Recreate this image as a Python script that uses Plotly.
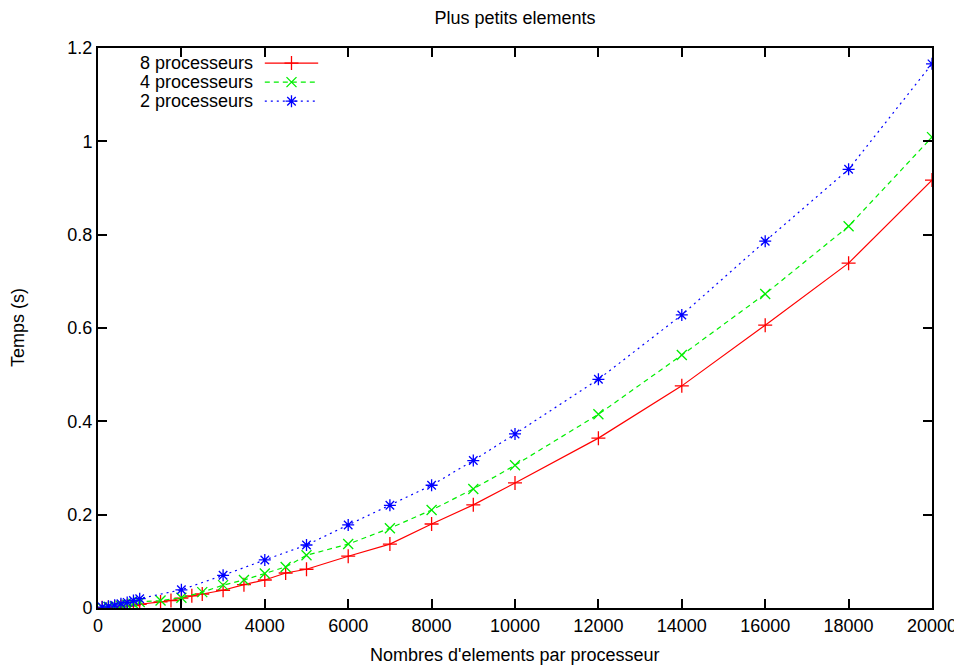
import plotly.graph_objects as go

# ---- data ----
series_names = ["8 processeurs", "4 processeurs", "2 processeurs"]

x_8 = [100, 250, 400, 550, 700, 850, 1000, 1500, 1750, 2000, 2250, 2500, 3000, 3500, 4000,
       4500, 5000, 6000, 7000, 8000, 9000, 10000, 12000, 14000, 16000, 18000, 20000]
y_8 = [0.0005, 0.001, 0.002, 0.003, 0.004, 0.005, 0.008, 0.013, 0.016, 0.021, 0.026, 0.030,
       0.038, 0.050, 0.060, 0.075, 0.083, 0.111, 0.137, 0.180, 0.221, 0.268, 0.364, 0.476,
       0.606, 0.739, 0.917]

x_4 = [100, 250, 400, 550, 700, 850, 1000, 1500, 2000, 2500, 3000, 3500, 4000, 4500, 5000,
       6000, 7000, 8000, 9000, 10000, 12000, 14000, 16000, 18000, 20000]
y_4 = [0.001, 0.002, 0.003, 0.005, 0.007, 0.009, 0.013, 0.016, 0.022, 0.034, 0.049, 0.060,
       0.074, 0.088, 0.113, 0.137, 0.171, 0.210, 0.255, 0.306, 0.415, 0.542, 0.673, 0.818,
       1.009]

x_2 = [100, 250, 400, 550, 700, 850, 1000, 2000, 3000, 4000, 5000, 6000, 7000, 8000, 9000,
       10000, 12000, 14000, 16000, 18000, 20000]
y_2 = [0.002, 0.004, 0.006, 0.009, 0.012, 0.016, 0.020, 0.039, 0.070, 0.103, 0.135, 0.178,
       0.220, 0.263, 0.316, 0.373, 0.490, 0.628, 0.786, 0.940, 1.166]

x_ticks = [0, 2000, 4000, 6000, 8000, 10000, 12000, 14000, 16000, 18000, 20000]
y_ticks = [0, 0.2, 0.4, 0.6, 0.8, 1, 1.2]

title_text = "Plus petits elements"
x_title = "Nombres d'elements par processeur"
y_title = "Temps (s)"

# ---- styles ----
FONT = "Liberation Sans, Arial, Helvetica, sans-serif"
FS = 18
W, H = 954, 661
ML, MR, MT, MB = 90, 30, 40, 61
styles = [
    dict(color="#ff0000", dash="solid", symbol="cross-thin", size=10),
    dict(color="#00ee00", dash="5px,4px", symbol="x-thin", size=10),
    dict(color="#0000ff", dash="2px,4px", symbol="asterisk", size=10),
]
data = [(x_8, y_8), (x_4, y_4), (x_2, y_2)]

fig = go.Figure()
for (xs, ys), st, name in zip(data, styles, series_names):
    fig.add_trace(go.Scatter(
        x=xs, y=ys, mode="lines+markers", name=name, showlegend=False,
        line=dict(color=st["color"], width=1.2, dash=st["dash"]),
        marker=dict(symbol=st["symbol"], size=st["size"], color=st["color"],
                    line=dict(color=st["color"], width=1.3)),
    ))

# custom legend (gnuplot style: text right, sample on the right)
leg_rows = [0.973, 0.939, 0.905]
for st, name, ry in zip(styles, series_names, leg_rows):
    fig.add_trace(go.Scatter(
        x=[0.200, 0.264], y=[ry, ry], xaxis="x2", yaxis="y2", mode="lines",
        line=dict(color=st["color"], width=1.2, dash=st["dash"]),
        showlegend=False, hoverinfo="skip"))
    fig.add_trace(go.Scatter(
        x=[0.232], y=[ry], xaxis="x2", yaxis="y2", mode="markers",
        marker=dict(symbol=st["symbol"], size=st["size"], color=st["color"],
                    line=dict(color=st["color"], width=1.3)),
        showlegend=False, hoverinfo="skip"))
    fig.add_annotation(x=0.188, y=ry, xref="x2", yref="y2", text=name,
                       showarrow=False, xanchor="right", yanchor="middle",
                       font=dict(family=FONT, size=FS, color="#000"))

# axis titles as annotations for precise placement
pw, ph = W - ML - MR, H - MT - MB
fig.add_annotation(text=y_title, textangle=-90, showarrow=False,
                   xref="paper", yref="paper", x=(10 - ML) / pw, y=0.5,
                   xanchor="center", yanchor="middle",
                   font=dict(family=FONT, size=FS, color="#000"))
fig.add_annotation(text=x_title, showarrow=False,
                   xref="paper", yref="paper", x=0.5, y=-(647 - (MT + ph)) / ph,
                   xanchor="center", yanchor="middle",
                   font=dict(family=FONT, size=FS, color="#000"))

axis_common = dict(
    showgrid=False, zeroline=False, showline=True, linecolor="#000", linewidth=2,
    mirror="ticks", ticks="inside", ticklen=9, tickwidth=1.5, tickcolor="#000",
    tickfont=dict(family=FONT, size=FS, color="#000"), automargin=False,
)

fig.update_layout(
    width=W, height=H,
    margin=dict(l=ML, r=MR, t=MT, b=MB, autoexpand=False),
    paper_bgcolor="white", plot_bgcolor="white",
    title=dict(text=title_text, x=(ML + pw / 2) / W, xanchor="center", y=1 - 10 / H,
               yanchor="middle", font=dict(family=FONT, size=FS, color="#000")),
    xaxis=dict(range=[0, 20000], tickvals=x_ticks, tickformat="d", **axis_common),
    yaxis=dict(range=[0, 1.2], tickvals=y_ticks,
               ticktext=[("%g" % v) for v in y_ticks], **axis_common),
    xaxis2=dict(overlaying="x", range=[0, 1], visible=False, anchor="y2"),
    yaxis2=dict(overlaying="y", range=[0, 1], visible=False, anchor="x2"),
)

fig.write_html("out.html")
